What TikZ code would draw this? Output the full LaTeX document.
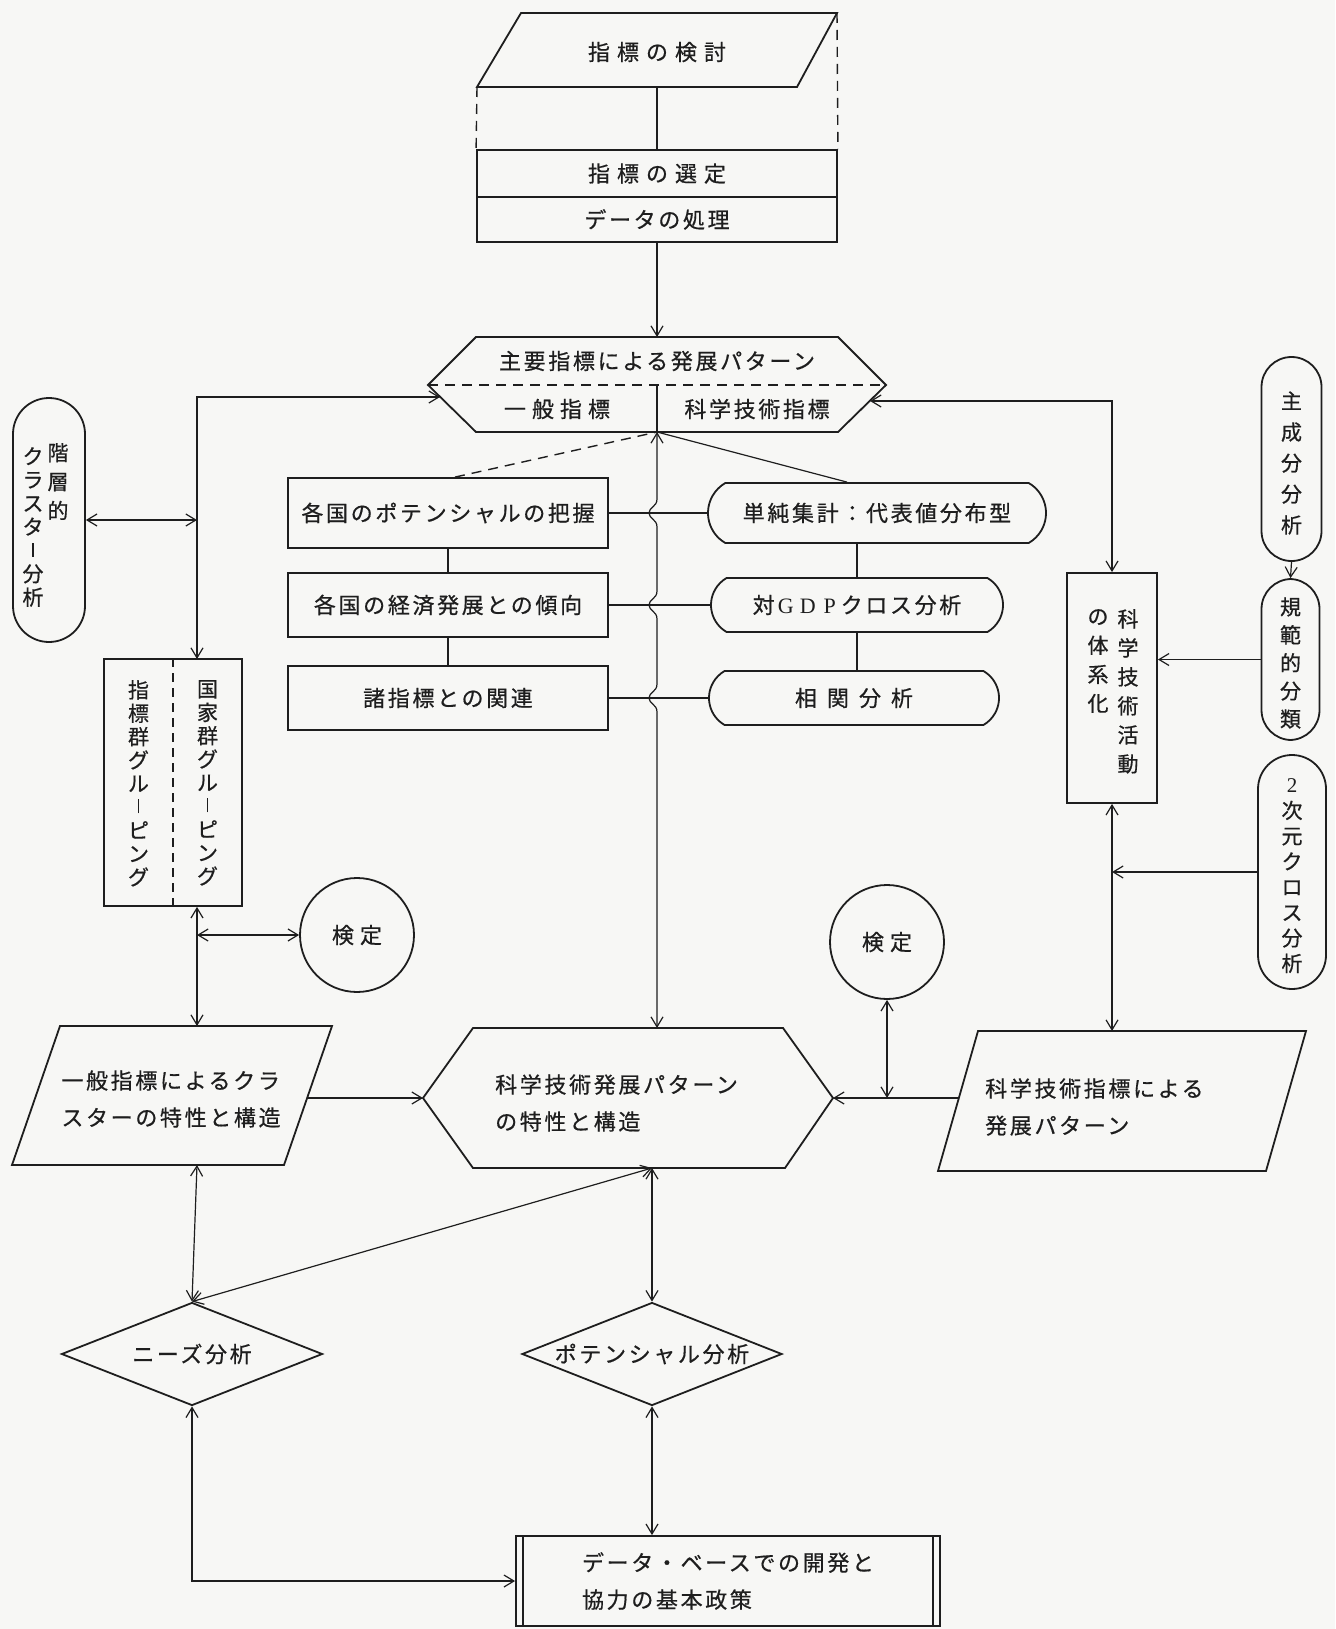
\documentclass[tikz,border=0pt]{standalone}
\usepackage{fontspec}
\newfontfamily\jp[LetterSpace=12,FakeBold=0.6]{Noto Sans CJK JP}
\newfontfamily\lat{Liberation Serif}
\usetikzlibrary{arrows.meta,shapes.misc,shapes.geometric,calc}
\definecolor{bg}{RGB}{247,247,245}
\definecolor{ink}{RGB}{30,30,30}
\newcommand\vbar{\rule[1.5pt]{1.5pt}{14pt}}
\tikzset{
  shp/.style={draw=ink, line width=1.8pt, line join=miter},
  box/.style={shp, rectangle, inner sep=0pt},
  conn/.style={draw=ink, line width=1.2pt},
  arr/.style={conn, -{Straight Barb[length=10pt,width=12pt]}},
  darr/.style={conn, {Straight Barb[length=10pt,width=12pt]}-{Straight Barb[length=10pt,width=12pt]}},
  txt/.style={font=\jp\fontsize{22pt}{37pt}\selectfont, inner sep=0pt, text=ink},
  vt/.style={align=center, inner sep=0pt, text=ink, font=\jp\fontsize{21pt}{#1}\selectfont},
  hstad/.style={shp, rounded rectangle, rounded rectangle arc length=120, inner sep=0pt},
  vstad/.style={shp, rectangle, rounded corners=#1, inner sep=0pt},
  dsh/.style={draw=ink, line width=1.4pt, dash pattern=on 10pt off 7pt},
}
\begin{document}
\begin{tikzpicture}[x=1pt,y=-1pt]
\fill[bg] (0,0) rectangle (1335,1629);
\useasboundingbox (0,0) rectangle (1335,1629);

% ---------- top parallelogram and boxes ----------
\coordinate (p0tl) at (521,13);
\coordinate (p0tr) at (837,13);
\coordinate (p0br) at (797,87);
\coordinate (p0bl) at (477,87);
\coordinate (p0b) at (657,87);
\draw[shp] (p0tl) -- (p0tr) -- (p0br) -- (p0bl) -- cycle;
\node[txt] (t0) at (657,52) {指\hspace{7pt}標\hspace{7pt}の\hspace{7pt}検\hspace{7pt}討};

\node[txt, box, minimum width=360pt, minimum height=47pt] (b1) at (657,173.5) {指\hspace{7pt}標\hspace{7pt}の\hspace{7pt}選\hspace{7pt}定};
\node[txt, box, minimum width=360pt, minimum height=45pt] (b2) at (657,219.5) {データの処理};

\draw[dsh] (p0bl) -- (b1.north west);
\draw[dsh] (p0tr) -- (b1.north east);
\draw[conn] (p0b) -- (b1.north);

% ---------- hexagon 1 ----------
\coordinate (h1l) at (428,385);
\coordinate (h1tl) at (476,337);
\coordinate (h1tr) at (838,337);
\coordinate (h1r) at (886,385);
\coordinate (h1br) at (838,432);
\coordinate (h1bl) at (476,432);
\coordinate (h1top) at (657,337);
\coordinate (h1bot) at (657,432);
\coordinate (h1mid) at (657,385);
\coordinate (h1lc) at (440,397);
\coordinate (h1rc) at (870,401);
\draw[shp] (h1l) -- (h1tl) -- (h1tr) -- (h1r) -- (h1br) -- (h1bl) -- cycle;
\draw[dsh] (h1l) -- (h1r);
\draw[conn] (h1mid) -- (h1bot);
\node[txt] (h1t) at (657,361) {主要指標による発展パターン};
\node[txt] (h1a) at (557,409) {一\hspace{6pt}般\hspace{6pt}指\hspace{6pt}標};
\node[txt] (h1s) at (757,409) {科学技術指標};
\draw[arr] (b2.south) -- (h1top);

% ---------- left analysis boxes ----------
\node[txt, box, minimum width=320pt, minimum height=70pt] (ba) at (448,513) {各国のポテンシャルの把握};
\node[txt, box, minimum width=320pt, minimum height=64pt] (bb) at (448,605) {各国の経済発展との傾向};
\node[txt, box, minimum width=320pt, minimum height=64pt] (bc) at (448,698) {諸指標との関連};
\draw[conn] (ba.south) -- (bb.north);
\draw[conn] (bb.south) -- (bc.north);

% ---------- stadiums ----------
\node[txt, hstad, minimum width=338pt, minimum height=60pt] (s1) at (877,513) {単純集計：代表値分布型};
\node[txt, hstad, minimum width=292pt, minimum height=54pt] (s2) at (857,605) {対\makebox[22pt]{\lat G}\makebox[22pt]{\lat D}\makebox[22pt]{\lat P}クロス分析};
\node[txt, hstad, minimum width=290pt, minimum height=54pt] (s3) at (854,698) {相\hspace{10pt}関\hspace{10pt}分\hspace{10pt}析};
\draw[conn] (s2.north |- s1.south) -- (s2.north);
\draw[conn] (s2.south) -- (s2.south |- s3.north);

\draw[conn] (ba.east) -- (s1.west);
\draw[conn] (bb.east) -- (s2.west);
\draw[conn] (bc.east) -- (s3.west);

\draw[dsh] ([xshift=7pt]ba.north) -- (h1bot);
\draw[conn] (h1bot) -- ([xshift=-30pt]s1.north);

% ---------- central line with hops ----------
\coordinate (h2top) at (657,1028);
\draw[darr] (h1bot) -- (657,499)
  .. controls (657,507) and (649,507) .. (649,513)
  .. controls (649,519) and (657,519) .. (657,527) -- (657,591)
  .. controls (657,599) and (649,599) .. (649,605)
  .. controls (649,611) and (657,611) .. (657,619) -- (657,684)
  .. controls (657,692) and (649,692) .. (649,698)
  .. controls (649,704) and (657,704) .. (657,712) -- (h2top);

% ---------- left column ----------
\node[vstad=36pt, minimum width=72pt, minimum height=244pt] (hc) at (49,520) {};
\node[vt=29pt, anchor=north] (hct1) at (58,443) {階\\層\\的};
\node[vt=23.5pt, anchor=north] (hct2) at (33,447) {ク\\ラ\\ス\\タ\\\vbar\\分\\析};

\coordinate (gtop) at (197,659);
\node[box, minimum width=138pt, minimum height=247pt] (g) at (173,782.5) {};
\draw[dsh, dash pattern=on 9pt off 6pt] (g.north) -- (g.south);
\node[vt=23.4pt, anchor=north] (gt1) at (207.5,680) {国\\家\\群\\グ\\ル\\\vbar\\ピ\\ン\\グ};
\node[vt=23.4pt, anchor=north] (gt2) at (138.5,680) {指\\標\\群\\グ\\ル\\\vbar\\ピ\\ン\\グ};

\draw[darr] (h1lc) -| (gtop);
\draw[darr] (hc.east) -- (hc.east -| gtop);

\node[txt, shp, circle, minimum size=114pt] (c1) at (357,935) {検\hspace{6pt}定};
\draw[darr] (c1.west -| gtop) -- (c1.west);

% parallelogram P1
\coordinate (p1tl) at (60,1026);
\coordinate (p1tr) at (332,1026);
\coordinate (p1br) at (284,1165);
\coordinate (p1bl) at (12,1165);
\coordinate (p1r) at (307,1098);
\draw[shp] (p1tl) -- (p1tr) -- (p1br) -- (p1bl) -- cycle;
\node[txt, align=left] (p1t) at (171,1099) {一般指標によるクラ\\スターの特性と構造};
\draw[darr] (g.south -| gtop) -- (gtop |- p1tl);

% ---------- hexagon 2 ----------
\coordinate (h2l) at (423,1098);
\coordinate (h2tl) at (473,1028);
\coordinate (h2tr) at (783,1028);
\coordinate (h2r) at (833,1098);
\coordinate (h2br) at (785,1168);
\coordinate (h2bl) at (473,1168);
\coordinate (h2bot) at (652,1168);
\draw[shp] (h2l) -- (h2tl) -- (h2tr) -- (h2r) -- (h2br) -- (h2bl) -- cycle;
\node[txt, align=left, anchor=west] (h2t) at (495,1103) {科学技術発展パターン\\の特性と構造};
\draw[arr] (p1r) -- (h2l);

% ---------- right column ----------
\node[box, minimum width=90pt, minimum height=230pt] (k) at (1112,688) {};
\node[vt=29pt, anchor=north] (kt1) at (1128,609) {科\\学\\技\\術\\活\\動};
\node[vt=29pt, anchor=north] (kt2) at (1098,609) {の\\体\\系\\化};
\draw[darr] (h1rc) -| (k.north);

\node[vstad=30pt, minimum width=60pt, minimum height=204pt] (pc) at (1291.5,459) {};
\node[vt=31pt] (pct) at (1291.5,463) {主\\成\\分\\分\\析};
\node[vstad=30pt, minimum width=58pt, minimum height=161pt] (kh) at (1290.5,659.5) {};
\node[vt=28pt] (kht) at (1290.5,663) {規\\範\\的\\分\\類};
\node[vstad=34pt, minimum width=68pt, minimum height=234pt] (d2x) at (1292,872) {};
\node[vt=25.5pt] (d2t) at (1292,876) {{\lat 2}\\次\\元\\ク\\ロ\\ス\\分\\析};
\draw[arr] (pc.south) -- (kh.north);
\draw[arr] (kh.west) -- (kh.west -| k.east);

\coordinate (p2tl) at (978,1031);
\coordinate (p2tr) at (1306,1031);
\coordinate (p2br) at (1266,1171);
\coordinate (p2bl) at (938,1171);
\coordinate (p2l) at (959,1098);
\draw[shp] (p2tl) -- (p2tr) -- (p2br) -- (p2bl) -- cycle;
\node[txt, align=left, anchor=west] (p2t) at (985,1107) {科学技術指標による\\発展パターン};
\draw[darr] (k.south) -- (k.south |- p2tl);
\draw[arr] (d2x.west) -- (d2x.west -| k.south);

\node[txt, shp, circle, minimum size=114pt] (c2) at (887,942) {検\hspace{6pt}定};
\draw[arr] (p2l) -- (h2r);
\draw[darr] (c2.south) -- (c2.south |- h2r);

% ---------- diamonds ----------
\node[txt, shp, diamond, aspect=2.5, minimum width=261pt, minimum height=103pt] (d1) at (192,1354) {ニーズ分析};
\node[txt, shp, diamond, aspect=2.5, minimum width=260pt, minimum height=103pt] (d2) at (652,1354) {ポテンシャル分析};
\draw[darr] (h2bot) -- (d1.north);
\draw[darr] (h2bot) -- (d2.north);
\draw[darr] (gtop |- p1bl) -- (d1.north);

% ---------- final box ----------
\node[txt, box, align=left, minimum width=424pt, minimum height=90pt] (f) at (728,1581) {データ・ベースでの開発と\\協力の基本政策};
\draw[shp, line width=1.4pt] ([xshift=8pt]f.north west) -- ([xshift=8pt]f.south west);
\draw[shp, line width=1.4pt] ([xshift=-8pt]f.north east) -- ([xshift=-8pt]f.south east);
\draw[darr] (d1.south) |- (f.west);
\draw[darr] (d2.south) -- (d2.south |- f.north);
\end{tikzpicture}
\end{document}
